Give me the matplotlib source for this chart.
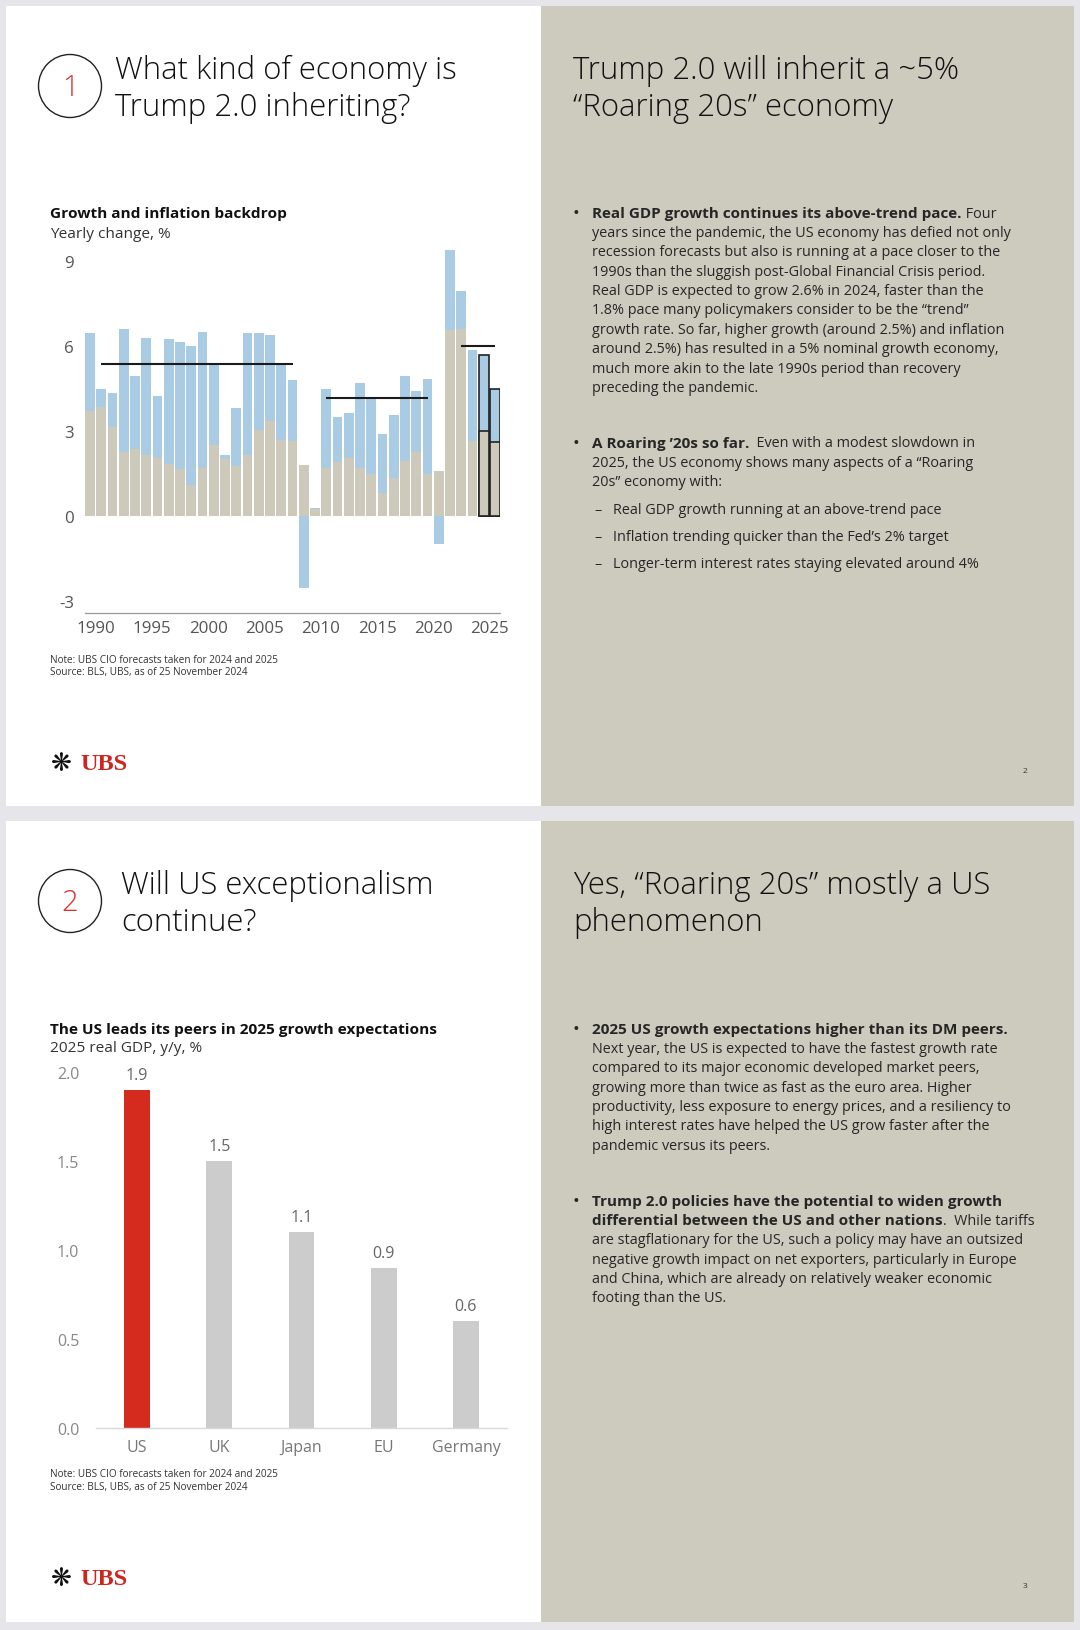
import matplotlib
matplotlib.use('Agg')
import matplotlib.pyplot as plt
from matplotlib.patches import Rectangle, Circle

# ---- data ----
years = list(range(1989, 2026))
total_growth = [6.45, 4.5, 4.35, 6.6, 4.95, 6.3, 4.25, 6.25, 6.15, 6.0,
                6.5, 5.35, 2.15, 3.8, 6.45, 6.45, 6.4, 5.35, 4.8, -2.55,
                0.3, 4.5, 3.5, 3.65, 4.7, 4.2, 2.9, 3.55, 4.95, 4.4,
                4.85, -1.0, 9.4, 7.95, 5.85, 5.7, 4.5]
inflation = [3.7, 3.85, 3.15, 2.25, 2.35, 2.15, 2.05, 1.85, 1.65, 1.1,
             1.7, 2.5, 2.0, 1.75, 2.15, 3.05, 3.35, 2.7, 2.65, 1.8,
             0.25, 1.7, 1.9, 2.05, 1.7, 1.5, 0.8, 1.35, 1.95, 2.25,
             1.5, 1.6, 6.55, 6.6, 2.65, 3.0, 2.6]
forecast_years = [2024, 2025]
avg_start = [1990, 2010, 2022]
avg_end = [2007, 2019, 2025]
avg_value = [5.35, 4.15, 6.0]

countries = ['US', 'UK', 'Japan', 'EU', 'Germany']
gdp_2025 = [1.9, 1.5, 1.1, 0.9, 0.6]

# ---- styling ----
W, H = 1080, 1631
PAGE_BG = '#e6e6ea'
PANEL = '#cdcabe'
BLUE = '#a9cbe3'
TAN = '#cdcabc'
RED = '#d42b1e'
LGRAY = '#cccccc'
TXT = '#262626'
BODY = 10.35
BODY_B = 10.95
HEAD = 11.1
TITLE = 22.4

plt.rcParams['font.family'] = ['Open Sans', 'DejaVu Sans']

fig = plt.figure(figsize=(W / 100, H / 100), dpi=100)
fig.patch.set_facecolor(PAGE_BG)
bg = fig.add_axes([0, 0, 1, 1])
bg.set_xlim(0, W)
bg.set_ylim(H, 0)
bg.axis('off')
renderer = fig.canvas.get_renderer()


def px_axes(left, top, right, bottom):
    return fig.add_axes([left / W, 1 - bottom / H, (right - left) / W, (bottom - top) / H])


def seg_line(x, y, segs, color=TXT):
    for s, bold in segs:
        t = bg.text(x, y, s, fontsize=BODY_B if bold else BODY, color=color,
                    va='center', ha='left', fontweight='bold' if bold else 'normal')
        x += t.get_window_extent(renderer).width


def slide(top, bottom, num, left_title, right_title, page):
    bg.add_patch(Rectangle((6, top), 535, bottom - top, fc='white', ec='none'))
    bg.add_patch(Rectangle((541, top), 533, bottom - top, fc=PANEL, ec='none'))
    cy = top + 80
    bg.add_patch(Circle((70, cy), 31.5, fill=False, ec='#222222', lw=1.0))
    bg.text(70, cy + 1, num, fontsize=21, fontweight='light', color='#e0302a',
            ha='center', va='center')
    for i, line in enumerate(left_title):
        bg.text(left_title_x[num], top + 64 + i * 37, line, fontsize=TITLE,
                fontweight='light', color='#111111', ha='left', va='center')
    for i, line in enumerate(right_title):
        bg.text(573, top + 64 + i * 37, line, fontsize=TITLE,
                fontweight='light', color='#111111', ha='left', va='center')
    # logo
    bg.text(61, top + 757, '\u274B', fontsize=18, family='DejaVu Sans',
            color='#111111', ha='center', va='center')
    bg.text(80, top + 758, 'UBS', fontsize=17.5, family='Liberation Serif',
            fontweight='bold', color='#d0251c', ha='left', va='center')
    bg.text(1025, top + 765, page, fontsize=6, color='#333333', ha='center', va='center')


left_title_x = {'1': 115, '2': 121}
slide(7, 807, '1', ['What kind of economy is', 'Trump 2.0 inheriting?'],
      ['Trump 2.0 will inherit a ~5%', '\u201cRoaring 20s\u201d economy'], '2')
slide(822, 1623, '2', ['Will US exceptionalism', 'continue?'],
      ['Yes, \u201cRoaring 20s\u201d mostly a US', 'phenomenon'], '3')

# ---- chart 1 ----
bg.text(50, 214, 'Growth and inflation backdrop', fontsize=HEAD, fontweight='bold',
        color='#111111', va='center')
bg.text(50, 234, 'Yearly change, %', fontsize=HEAD, color='#333333', va='center')

ax1 = px_axes(85, 245, 500, 614)
edges = ['#222222' if y in forecast_years else 'none' for y in years]
lws = [1.2 if y in forecast_years else 0 for y in years]
ax1.bar(years, total_growth, width=0.87, color=BLUE, edgecolor=edges, linewidth=lws, zorder=2)
ax1.bar(years, inflation, width=0.87, color=TAN, edgecolor=edges, linewidth=lws, zorder=3)
ax1.hlines(avg_value, avg_start, avg_end, color='#1a1a1a', lw=1.5, zorder=4)
ax1.set_xlim(1988.565, 2025.435)
ax1.set_ylim(-3.42, 9.6)
ax1.set_yticks([-3, 0, 3, 6, 9])
ax1.set_yticklabels(['-3', '0', '3', '6', '9'])
tick_years = list(range(1990, 2026, 5))
ax1.set_xticks([y - 0.47 for y in tick_years])
ax1.set_xticklabels([str(y) for y in tick_years])
ax1.tick_params(axis='y', length=0, pad=8, labelsize=12.2, labelcolor='#555555')
ax1.tick_params(axis='x', length=0, pad=5, labelsize=12.2, labelcolor='#555555')
for side in ['top', 'right', 'left']:
    ax1.spines[side].set_visible(False)
ax1.spines['bottom'].set_color('#999999')
ax1.spines['bottom'].set_linewidth(0.9)
ax1.set_facecolor('none')

bg.text(50, 661, 'Note: UBS CIO forecasts taken for 2024 and 2025', fontsize=7.2,
        color='#333333', va='center')
bg.text(50, 673, 'Source: BLS, UBS, as of 25 November 2024', fontsize=7.2,
        color='#333333', va='center')

# ---- chart 2 ----
bg.text(50, 1030, 'The US leads its peers in 2025 growth expectations', fontsize=HEAD,
        fontweight='bold', color='#111111', va='center')
bg.text(50, 1049, '2025 real GDP, y/y, %', fontsize=HEAD, color='#333333', va='center')

ax2 = px_axes(96, 1073, 507, 1429)
xpos = list(range(len(countries)))
ax2.bar(xpos, gdp_2025, width=0.315, color=[RED] + [LGRAY] * (len(countries) - 1), zorder=2)
for i, v in zip(xpos, gdp_2025):
    ax2.annotate(f'{v:.1f}', (i, v), xytext=(0, 5), textcoords='offset points',
                 ha='center', va='bottom', fontsize=11.5, color='#666666',
                 annotation_clip=False)
ax2.set_xlim(-0.5, 4.5)
ax2.set_ylim(0, 2.0)
ax2.set_yticks([0, 0.5, 1.0, 1.5, 2.0])
ax2.set_yticklabels([f'{v:.1f}' for v in [0, 0.5, 1.0, 1.5, 2.0]])
ax2.set_xticks(xpos)
ax2.set_xticklabels(countries)
ax2.tick_params(axis='y', length=0, pad=12, labelsize=11.5, labelcolor='#888888')
ax2.tick_params(axis='x', length=0, pad=8, labelsize=11.5, labelcolor='#777777')
for side in ['top', 'right', 'left']:
    ax2.spines[side].set_visible(False)
ax2.spines['bottom'].set_color('#d9d9d9')
ax2.spines['bottom'].set_linewidth(1.0)
ax2.set_facecolor('none')

bg.text(50, 1475, 'Note: UBS CIO forecasts taken for 2024 and 2025', fontsize=7.2,
        color='#333333', va='center')
bg.text(50, 1488, 'Source: BLS, UBS, as of 25 November 2024', fontsize=7.2,
        color='#333333', va='center')

# ---- right-hand commentary ----
BX, TX, STEP = 576, 592, 19.4


def bullet(y0, lines):
    bg.text(BX, y0, '\u2022', fontsize=13, color=TXT, ha='center', va='center')
    for i, segs in enumerate(lines):
        seg_line(TX, y0 + i * STEP, segs)


bullet(214, [
    [('Real GDP growth continues its above-trend pace.', True), (' Four', False)],
    [('years since the pandemic, the US economy has defied not only', False)],
    [('recession forecasts but also is running at a pace closer to the', False)],
    [('1990s than the sluggish post-Global Financial Crisis period.', False)],
    [('Real GDP is expected to grow 2.6% in 2024, faster than the', False)],
    [('1.8% pace many policymakers consider to be the \u201ctrend\u201d', False)],
    [('growth rate. So far, higher growth (around 2.5%) and inflation', False)],
    [('around 2.5%) has resulted in a 5% nominal growth economy,', False)],
    [('much more akin to the late 1990s period than recovery', False)],
    [('preceding the pandemic.', False)],
])
bullet(444, [
    [('A Roaring \u201920s so far.', True), ('  Even with a modest slowdown in', False)],
    [('2025, the US economy shows many aspects of a \u201cRoaring', False)],
    [('20s\u201d economy with:', False)],
])
for i, s in enumerate(['Real GDP growth running at an above-trend pace',
                       'Inflation trending quicker than the Fed\u2019s 2% target',
                       'Longer-term interest rates staying elevated around 4%']):
    y = 511 + i * 27
    bg.text(598, y, '\u2013', fontsize=BODY, color=TXT, ha='center', va='center')
    seg_line(613, y, [(s, False)])

bullet(1030, [
    [('2025 US growth expectations higher than its DM peers.', True)],
    [('Next year, the US is expected to have the fastest growth rate', False)],
    [('compared to its major economic developed market peers,', False)],
    [('growing more than twice as fast as the euro area. Higher', False)],
    [('productivity, less exposure to energy prices, and a resiliency to', False)],
    [('high interest rates have helped the US grow faster after the', False)],
    [('pandemic versus its peers.', False)],
])
bullet(1202, [
    [('Trump 2.0 policies have the potential to widen growth', True)],
    [('differential between the US and other nations', True), ('.  While tariffs', False)],
    [('are stagflationary for the US, such a policy may have an outsized', False)],
    [('negative growth impact on net exporters, particularly in Europe', False)],
    [('and China, which are already on relatively weaker economic', False)],
    [('footing than the US.', False)],
])

fig.savefig('out.png', dpi=100, facecolor=fig.get_facecolor())
